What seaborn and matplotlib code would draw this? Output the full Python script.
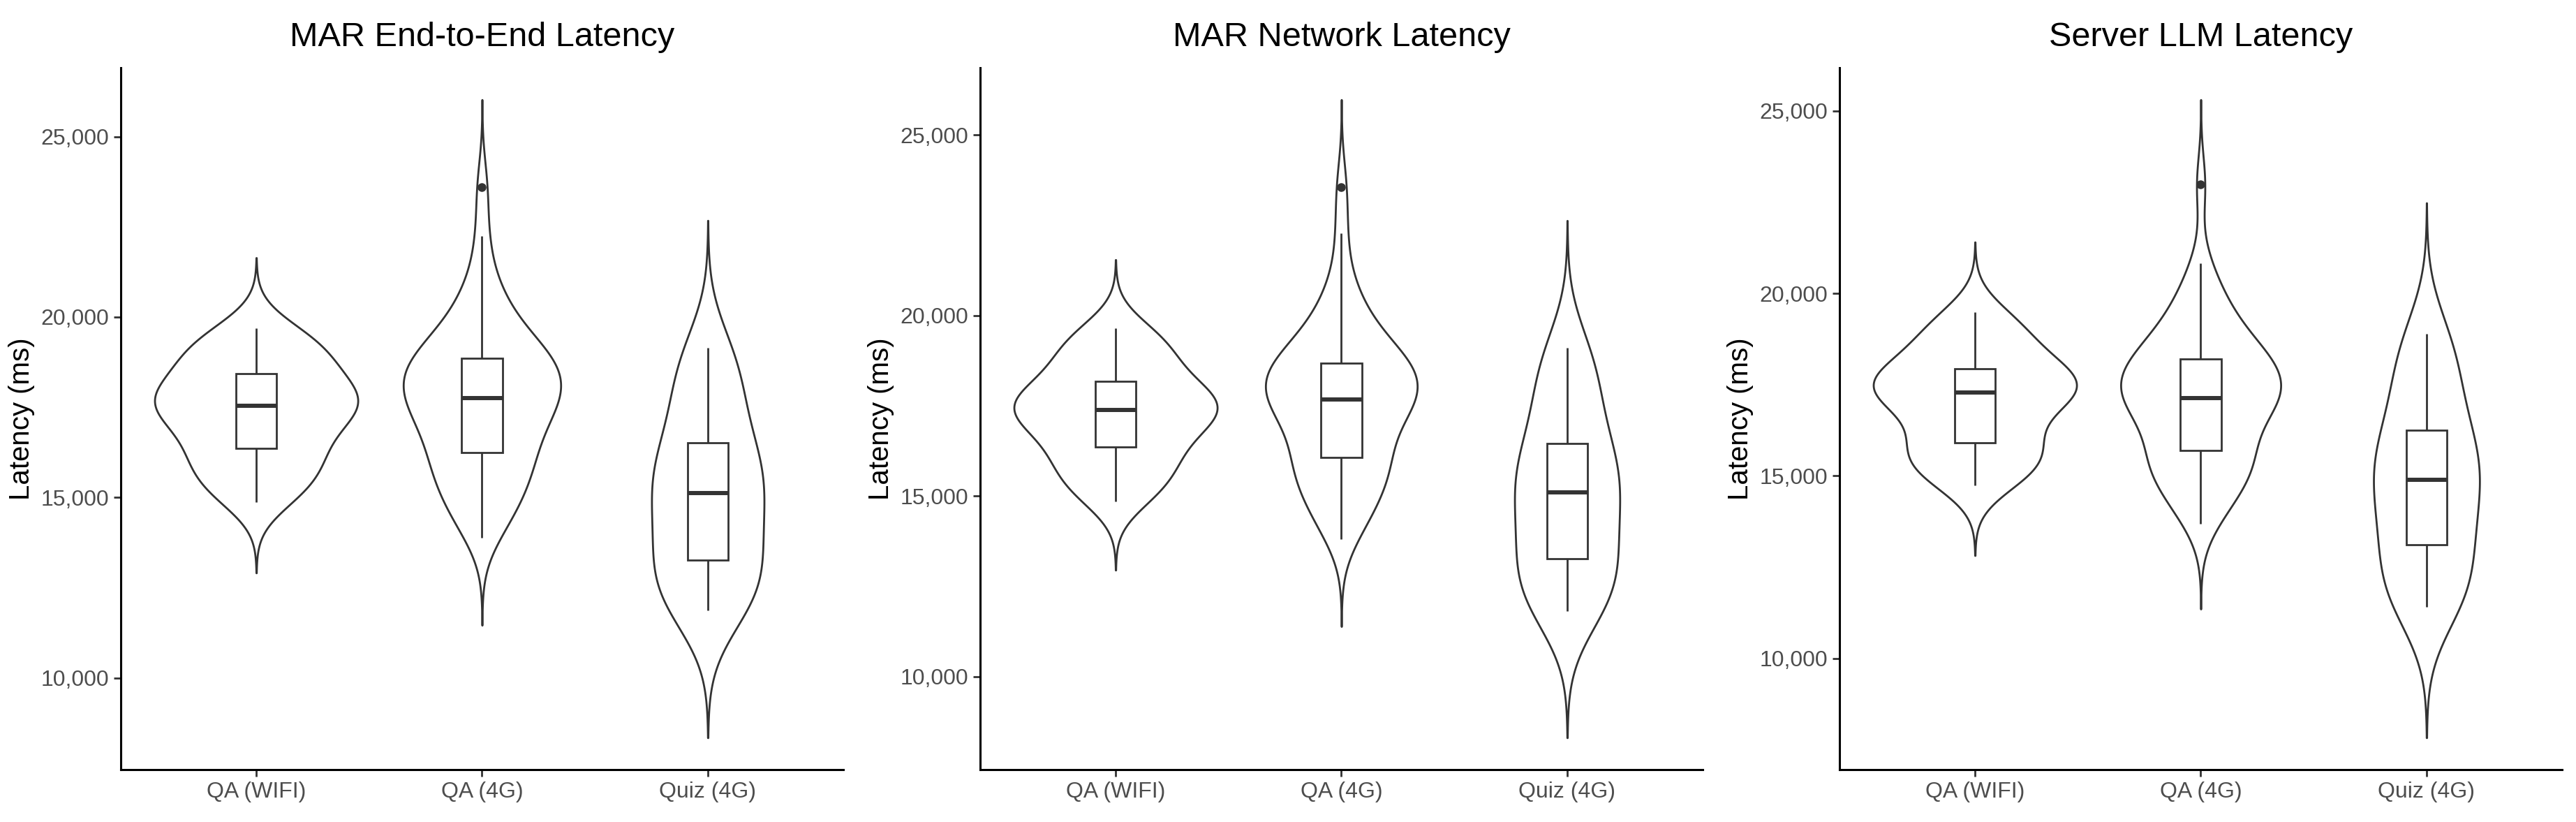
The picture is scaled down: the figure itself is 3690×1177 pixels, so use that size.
"""Violin + box plots of MAR latency per condition (three panels)."""

import numpy as np
import pandas as pd
import matplotlib
matplotlib.use("Agg")
import matplotlib.pyplot as plt
from matplotlib.ticker import FuncFormatter, MultipleLocator
import seaborn as sns

groups = ["QA (WIFI)", "QA (4G)", "Quiz (4G)"]
titles = ["MAR End-to-End Latency", "MAR Network Latency", "Server LLM Latency"]

e2e_wifi = [14870, 15150, 15420, 15680, 15920, 16150, 16364, 16600, 16850, 17080,
            17280, 17430, 17542, 17640, 17740, 17850, 17990, 18180, 18434, 18650,
            18850, 19050, 19250, 19450, 19683]
e2e_4g = [13877, 14220, 14500, 14730, 14940, 15130, 15310, 15480, 15640, 15800,
          15950, 16100, 16249, 16400, 16550, 16700, 16850, 17000, 17150, 17300,
          17400, 17500, 17600, 17700, 17758, 17850, 17950, 18050, 18150, 18250,
          18350, 18450, 18550, 18650, 18730, 18800, 18864, 18950, 19100, 19250,
          19400, 19600, 19800, 20050, 20350, 20700, 21200, 22240, 23606]
e2e_quiz = [11866, 12100, 12400, 12700, 13260, 13600, 14100, 14650, 15128, 15420,
            15720, 16080, 16522, 17300, 18000, 18600, 19151]

net_wifi = [14852, 15130, 15400, 15660, 15900, 16130, 16359, 16580, 16800, 17000,
            17170, 17300, 17393, 17480, 17570, 17670, 17800, 17970, 18182, 18430,
            18680, 18930, 19180, 19420, 19646]
net_4g = [13804, 14150, 14430, 14660, 14870, 15060, 15240, 15410, 15570, 15720,
          15860, 15970, 16072, 16250, 16420, 16600, 16780, 16950, 17120, 17280,
          17400, 17500, 17580, 17640, 17680, 17760, 17850, 17950, 18050, 18150,
          18250, 18350, 18430, 18520, 18590, 18640, 18685, 18800, 18950, 19100,
          19280, 19450, 19650, 19900, 20200, 20550, 21100, 22273, 23565]
net_quiz = [11823, 12060, 12360, 12660, 13259, 13580, 14070, 14620, 15096, 15390,
            15690, 16040, 16460, 17250, 17950, 18550, 19115]

llm_wifi = [14741, 14970, 15190, 15400, 15590, 15760, 15901, 16250, 16550, 16820,
            17030, 17180, 17288, 17380, 17470, 17570, 17680, 17800, 17925, 18180,
            18430, 18680, 18940, 19210, 19481]
llm_4g = [13680, 14000, 14270, 14490, 14680, 14850, 15000, 15140, 15270, 15390,
          15500, 15600, 15689, 15850, 16050, 16250, 16450, 16620, 16780, 16900,
          16990, 17050, 17090, 17115, 17132, 17230, 17340, 17450, 17550, 17650,
          17750, 17850, 17950, 18050, 18120, 18170, 18208, 18330, 18480, 18630,
          18800, 18980, 19170, 19380, 19620, 19900, 20250, 20826, 22977]
llm_quiz = [11415, 11650, 11960, 12300, 13114, 13430, 13920, 14440, 14883, 15180,
            15500, 15860, 16255, 17050, 17750, 18350, 18887]

panels = {
    titles[0]: [e2e_wifi, e2e_4g, e2e_quiz],
    titles[1]: [net_wifi, net_4g, net_quiz],
    titles[2]: [llm_wifi, llm_4g, llm_quiz],
}

rows = []
for title, series in panels.items():
    for grp, vals in zip(groups, series):
        rows += [(title, grp, v) for v in vals]
df = pd.DataFrame(rows, columns=["panel", "group", "latency"])


def nrd0(kde):
    """Silverman's rule of thumb (R's bw.nrd0) as a gaussian_kde factor."""
    x = kde.dataset.ravel()
    sd = x.std(ddof=1)
    q75, q25 = np.percentile(x, [75, 25])
    bw = 0.9 * min(sd, (q75 - q25) / 1.34) * len(x) ** -0.2
    return bw / sd


sns.set_style("ticks")
plt.rcParams["font.family"] = ["Liberation Sans", "DejaVu Sans"]

W, H = 3691, 1177
fig = plt.figure(figsize=(W / 100, H / 100), dpi=100)
lefts = [173, 1404, 2635]
ax_w, ax_b, ax_h = 1035, 75, 1005

line_col = "#333333"
for left, title in zip(lefts, titles):
    ax = fig.add_axes([left / W, ax_b / H, ax_w / W, ax_h / H])
    sub = df[df["panel"] == title]

    sns.violinplot(data=sub, x="group", y="latency", order=groups, ax=ax,
                   color="white", linecolor=line_col, linewidth=2.0,
                   saturation=1, inner=None, width=0.9, density_norm="area",
                   cut=3, gridsize=512, bw_method=nrd0)
    sns.boxplot(data=sub, x="group", y="latency", order=groups, ax=ax,
                color="white", linecolor=line_col, linewidth=2.0,
                saturation=1, width=0.18, showcaps=False, fliersize=8,
                medianprops={"linewidth": 4.3},
                flierprops={"marker": "o", "markerfacecolor": line_col,
                            "markeredgecolor": line_col})

    ax.set_xlim(-0.6, 2.6)
    ax.yaxis.set_major_locator(MultipleLocator(5000))
    ax.yaxis.set_major_formatter(FuncFormatter(lambda v, p: f"{v:,.0f}"))

    ax.set_title(title, fontsize=35, pad=22, color="black")
    ax.set_xlabel("")
    ax.set_ylabel("Latency (ms)", fontsize=29, color="black", labelpad=6)

    sns.despine(ax=ax)
    for side in ["left", "bottom"]:
        ax.spines[side].set_color("black")
        ax.spines[side].set_linewidth(2.2)
    ax.tick_params(length=7, width=2, color=line_col, labelsize=23,
                   labelcolor="#4D4D4D", pad=5)

fig.savefig("out.png", dpi=100)
